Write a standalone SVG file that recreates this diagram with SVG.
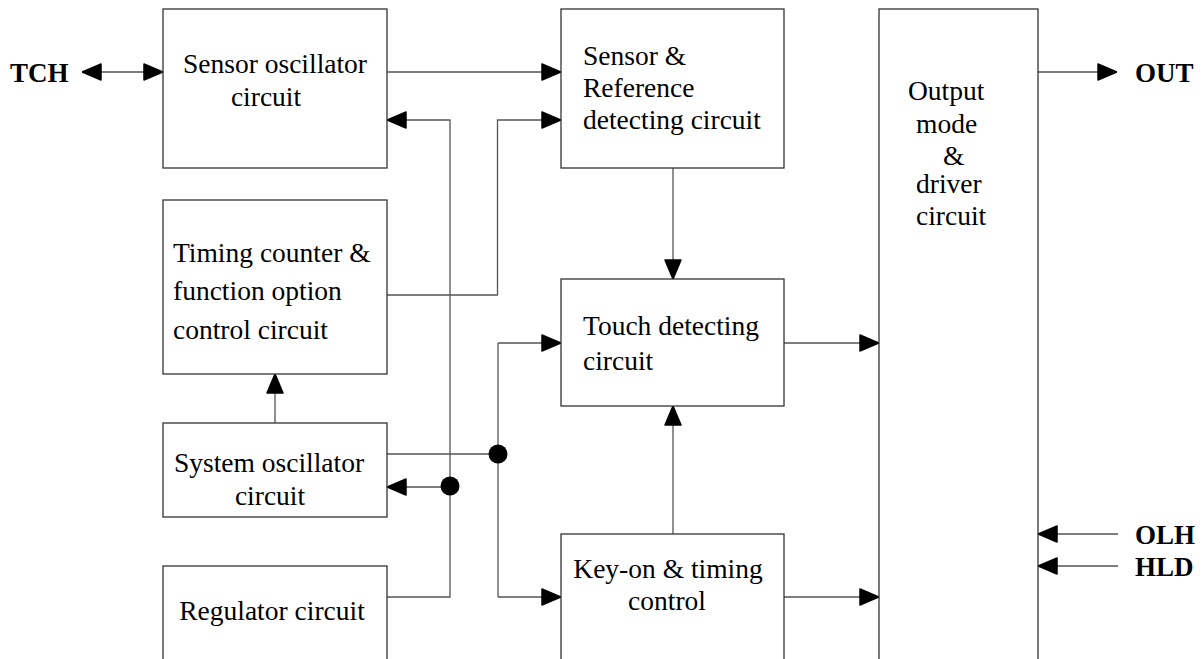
<svg xmlns="http://www.w3.org/2000/svg" width="1203" height="659" viewBox="0 0 1203 659">
<style>
.box{fill:#fff;stroke:#333;stroke-width:1.3}
.c{fill:none;stroke:#555;stroke-width:1.3}
.t{font-family:"Liberation Serif","Times New Roman",serif;font-size:27.5px;fill:#000}
.b{font-family:"Liberation Serif","Times New Roman",serif;font-size:27px;font-weight:bold;fill:#000}
.dot{fill:#000}
</style>
<defs>
<marker id="arr" viewBox="0 0 20 18" refX="20" refY="9" markerWidth="20" markerHeight="18" markerUnits="userSpaceOnUse" orient="auto-start-reverse">
<path d="M1,1 L20,9 L1,17 z" fill="#000" stroke="#000" stroke-width="1.5" stroke-linejoin="round"/>
</marker>
</defs>
<rect width="1203" height="659" fill="#fff"/>
<g id="connectors">
<path class="c" d="M82,72 H163" marker-start="url(#arr)" marker-end="url(#arr)"/>
<path class="c" d="M387,72 H561" marker-end="url(#arr)"/>
<path class="c" d="M387,295 H497.5 V120 H561" marker-end="url(#arr)"/>
<path class="c" d="M387,597 H450 V120 H387" marker-end="url(#arr)"/>
<path class="c" d="M450,487 H387" marker-end="url(#arr)"/>
<path class="c" d="M387,454 H498"/>
<path class="c" d="M498,343 V597"/>
<path class="c" d="M498,343 H561" marker-end="url(#arr)"/>
<path class="c" d="M498,597 H561" marker-end="url(#arr)"/>
<path class="c" d="M673,168 V279" marker-end="url(#arr)"/>
<path class="c" d="M673,534 V406" marker-end="url(#arr)"/>
<path class="c" d="M275,423 V374" marker-end="url(#arr)"/>
<path class="c" d="M784,343 H879" marker-end="url(#arr)"/>
<path class="c" d="M784,597 H879" marker-end="url(#arr)"/>
<path class="c" d="M1038,72 H1117" marker-end="url(#arr)"/>
<path class="c" d="M1118,534 H1038" marker-end="url(#arr)"/>
<path class="c" d="M1118,566 H1038" marker-end="url(#arr)"/>
<circle class="dot" cx="498" cy="454" r="9.5"/>
<circle class="dot" cx="450" cy="486" r="9.5"/>
</g>
<g id="sensor-osc">
<rect class="box" x="163" y="9" width="224" height="159"/>
<text class="t" x="275" y="73" text-anchor="middle">Sensor oscillator</text>
<text class="t" x="266" y="106" text-anchor="middle">circuit</text>
</g>
<g id="timing">
<rect class="box" x="163" y="200" width="224" height="174"/>
<text class="t" x="173" y="262">Timing counter &amp;</text>
<text class="t" x="173" y="300">function option</text>
<text class="t" x="173" y="339">control circuit</text>
</g>
<g id="system-osc">
<rect class="box" x="163" y="423" width="224" height="94"/>
<text class="t" x="269" y="472" text-anchor="middle">System oscillator</text>
<text class="t" x="270" y="505" text-anchor="middle">circuit</text>
</g>
<g id="regulator">
<rect class="box" x="163" y="566" width="224" height="120"/>
<text class="t" x="272" y="620" text-anchor="middle">Regulator circuit</text>
</g>
<g id="sensor-ref">
<rect class="box" x="561" y="9" width="223" height="159"/>
<text class="t" x="583" y="65">Sensor &amp;</text>
<text class="t" x="583" y="97">Reference</text>
<text class="t" x="583" y="129">detecting circuit</text>
</g>
<g id="touch">
<rect class="box" x="561" y="279" width="223" height="127"/>
<text class="t" x="583" y="335">Touch detecting</text>
<text class="t" x="583" y="370">circuit</text>
</g>
<g id="keyon">
<rect class="box" x="561" y="534" width="223" height="150"/>
<text class="t" x="668" y="578" text-anchor="middle">Key-on &amp; timing</text>
<text class="t" x="667" y="610" text-anchor="middle">control</text>
</g>
<g id="output">
<rect class="box" x="879" y="9" width="159" height="680"/>
<text class="t" x="908" y="100">Output</text>
<text class="t" x="916" y="133">mode</text>
<text class="t" x="943" y="165">&amp;</text>
<text class="t" x="916" y="193">driver</text>
<text class="t" x="916" y="225">circuit</text>
</g>
<g id="labels">
<text class="b" x="10" y="82">TCH</text>
<text class="b" x="1135" y="82">OUT</text>
<text class="b" x="1135" y="544">OLH</text>
<text class="b" x="1135" y="576">HLD</text>
</g>
</svg>
